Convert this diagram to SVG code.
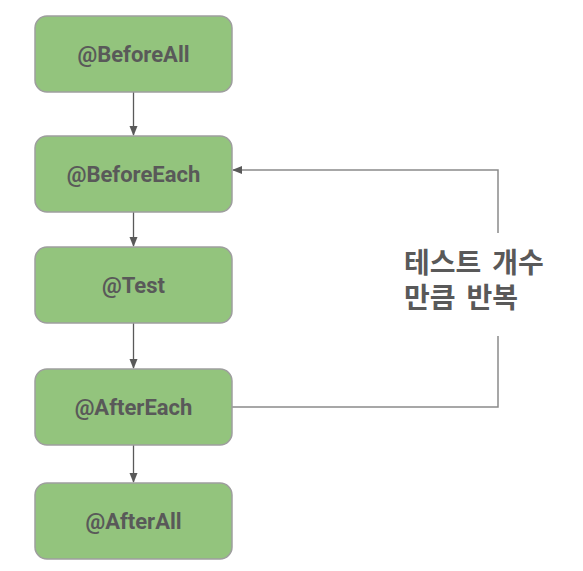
<svg xmlns="http://www.w3.org/2000/svg" width="583" height="571" viewBox="0 0 583 571">
<style>
.box{fill:#93c47d;stroke:#9e9e9e;stroke-width:1.5}
.lbl{font-family:Roboto,"Liberation Sans",sans-serif;font-weight:bold;font-size:22px;fill:#595959;text-anchor:middle}
.con{fill:none;stroke:#595959;stroke-width:1.3}
.loop{fill:none;stroke:#8a8a8a;stroke-width:1.5}
.kr{font-family:Roboto,"Noto Sans CJK KR",sans-serif;font-weight:bold;font-size:28px;fill:#595959;word-spacing:4px}
</style>
<defs>
<marker id="ah" markerWidth="10" markerHeight="10" refX="9" refY="5" orient="auto" markerUnits="userSpaceOnUse">
<path d="M0,1 L10,5 L0,9 z" fill="#595959"/>
</marker>
</defs>
<rect width="583" height="571" fill="#ffffff"/>
<g id="connectors">
<line class="con" x1="133.5" y1="92" x2="133.5" y2="135" marker-end="url(#ah)"/>
<line class="con" x1="133.5" y1="212" x2="133.5" y2="246" marker-end="url(#ah)"/>
<line class="con" x1="133.5" y1="323" x2="133.5" y2="368" marker-end="url(#ah)"/>
<line class="con" x1="133.5" y1="445" x2="133.5" y2="482" marker-end="url(#ah)"/>
<polyline class="loop" points="232,407 498,407 498,336"/>
<polyline class="loop" points="498,233 498,170 233,170" marker-end="url(#ah)"/>
</g>
<g id="beforeAll"><rect class="box" x="35" y="16" width="197" height="76" rx="12"/><text class="lbl" x="133.5" y="62">@BeforeAll</text></g>
<g id="beforeEach"><rect class="box" x="35" y="136" width="197" height="76" rx="12"/><text class="lbl" x="133.5" y="182">@BeforeEach</text></g>
<g id="test"><rect class="box" x="35" y="247" width="197" height="76" rx="12"/><text class="lbl" x="133.5" y="293">@Test</text></g>
<g id="afterEach"><rect class="box" x="35" y="369" width="197" height="76" rx="12"/><text class="lbl" x="133.5" y="415">@AfterEach</text></g>
<g id="afterAll"><rect class="box" x="35" y="483" width="197" height="76" rx="12"/><text class="lbl" x="133.5" y="529">@AfterAll</text></g>
<g id="loopLabel"><text class="kr" x="404" y="273">테스트 개수</text><text class="kr" x="404" y="308">만큼 반복</text></g>
</svg>
